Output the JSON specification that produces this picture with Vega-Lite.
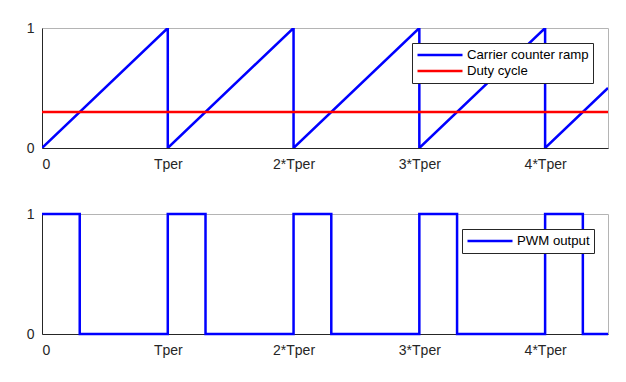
{
  "$schema": "https://vega.github.io/schema/vega-lite/v6.json",
  "padding": {"left": 25, "top": 20, "right": 10, "bottom": 5},
  "background": "white",
  "spacing": 66,
  "bounds": "flush",
  "config": {
    "font": "Liberation Sans",
    "view": {"stroke": "#b4b4b4", "strokeWidth": 1},
    "axis": {
      "grid": false,
      "ticks": false,
      "domainColor": "#262626",
      "domainWidth": 1,
      "labelFont": "Liberation Sans",
      "labelFontSize": 14,
      "labelColor": "#262626",
      "title": null
    },
    "legend": {
      "labelFont": "Liberation Sans",
      "labelFontSize": 13.2,
      "labelColor": "#000000",
      "symbolType": "stroke",
      "symbolSize": 2025,
      "symbolStrokeWidth": 2.5,
      "strokeColor": "#262626",
      "fillColor": "white",
      "padding": 4,
      "rowPadding": 0,
      "labelOffset": 3,
      "clipHeight": 16,
      "title": null,
      "labelLimit": 300
    }
  },
  "vconcat": [
    {
      "width": 566,
      "height": 120,
      "data": {
        "values": [
          {"series": "Carrier counter ramp", "i": 0, "t": 0, "v": 0},
          {"series": "Carrier counter ramp", "i": 1, "t": 1, "v": 1},
          {"series": "Carrier counter ramp", "i": 2, "t": 1, "v": 0},
          {"series": "Carrier counter ramp", "i": 3, "t": 2, "v": 1},
          {"series": "Carrier counter ramp", "i": 4, "t": 2, "v": 0},
          {"series": "Carrier counter ramp", "i": 5, "t": 3, "v": 1},
          {"series": "Carrier counter ramp", "i": 6, "t": 3, "v": 0},
          {"series": "Carrier counter ramp", "i": 7, "t": 4, "v": 1},
          {"series": "Carrier counter ramp", "i": 8, "t": 4, "v": 0},
          {"series": "Carrier counter ramp", "i": 9, "t": 4.5, "v": 0.5},
          {"series": "Duty cycle", "i": 0, "t": 0, "v": 0.3},
          {"series": "Duty cycle", "i": 1, "t": 4.5, "v": 0.3}
        ]
      },
      "mark": {"type": "line", "strokeWidth": 2.5, "clip": true},
      "encoding": {
        "x": {
          "field": "t", "type": "quantitative",
          "scale": {"domain": [0, 4.5], "nice": false, "zero": false},
          "axis": {"values": [0, 1, 2, 3, 4], "labelPadding": 9,
            "labelExpr": "datum.value == 0 ? '0' : datum.value == 1 ? 'Tper' : datum.value + '*Tper'"}
        },
        "y": {
          "field": "v", "type": "quantitative",
          "scale": {"domain": [0, 1], "nice": false},
          "axis": {"values": [0, 1], "format": "d", "labelPadding": 8}
        },
        "order": {"field": "i"},
        "color": {
          "field": "series", "type": "nominal",
          "scale": {"domain": ["Carrier counter ramp", "Duty cycle"], "range": ["#0000ff", "#ff0000"]},
          "legend": {"orient": "none", "legendX": 370, "legendY": 15}
        }
      }
    },
    {
      "width": 566,
      "height": 120,
      "data": {
        "values": [
          {"series": "PWM output", "i": 0, "t": 0, "v": 1},
          {"series": "PWM output", "i": 1, "t": 0.3, "v": 1},
          {"series": "PWM output", "i": 2, "t": 0.3, "v": 0},
          {"series": "PWM output", "i": 3, "t": 1, "v": 0},
          {"series": "PWM output", "i": 4, "t": 1, "v": 1},
          {"series": "PWM output", "i": 5, "t": 1.3, "v": 1},
          {"series": "PWM output", "i": 6, "t": 1.3, "v": 0},
          {"series": "PWM output", "i": 7, "t": 2, "v": 0},
          {"series": "PWM output", "i": 8, "t": 2, "v": 1},
          {"series": "PWM output", "i": 9, "t": 2.3, "v": 1},
          {"series": "PWM output", "i": 10, "t": 2.3, "v": 0},
          {"series": "PWM output", "i": 11, "t": 3, "v": 0},
          {"series": "PWM output", "i": 12, "t": 3, "v": 1},
          {"series": "PWM output", "i": 13, "t": 3.3, "v": 1},
          {"series": "PWM output", "i": 14, "t": 3.3, "v": 0},
          {"series": "PWM output", "i": 15, "t": 4, "v": 0},
          {"series": "PWM output", "i": 16, "t": 4, "v": 1},
          {"series": "PWM output", "i": 17, "t": 4.3, "v": 1},
          {"series": "PWM output", "i": 18, "t": 4.3, "v": 0},
          {"series": "PWM output", "i": 19, "t": 4.5, "v": 0}
        ]
      },
      "mark": {"type": "line", "strokeWidth": 2.5},
      "encoding": {
        "x": {
          "field": "t", "type": "quantitative",
          "scale": {"domain": [0, 4.5], "nice": false, "zero": false},
          "axis": {"values": [0, 1, 2, 3, 4], "labelPadding": 9,
            "labelExpr": "datum.value == 0 ? '0' : datum.value == 1 ? 'Tper' : datum.value + '*Tper'"}
        },
        "y": {
          "field": "v", "type": "quantitative",
          "scale": {"domain": [0, 1], "nice": false},
          "axis": {"values": [0, 1], "format": "d", "labelPadding": 8}
        },
        "order": {"field": "i"},
        "color": {
          "field": "series", "type": "nominal",
          "scale": {"domain": ["PWM output"], "range": ["#0000ff"]},
          "legend": {"orient": "none", "legendX": 420, "legendY": 15}
        }
      }
    }
  ],
  "resolve": {"scale": {"color": "independent"}, "legend": {"color": "independent"}}
}
